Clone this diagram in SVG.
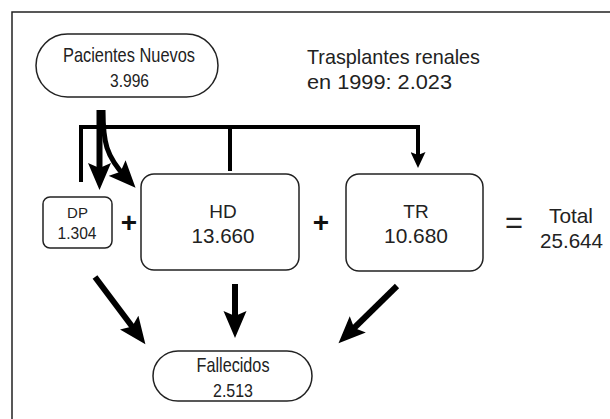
<svg xmlns="http://www.w3.org/2000/svg" width="610" height="419" viewBox="0 0 610 419">
  <style>
    .box { fill: #fff; stroke: #222; stroke-width: 1.5; }
    .t { font-family: "Liberation Sans", Arial, sans-serif; fill: #222; }
    .c { text-anchor: middle; }
    .thick { fill: none; stroke: #000; stroke-width: 6; marker-end: url(#big); }
    .thin { fill: none; stroke: #000; stroke-width: 4; stroke-linejoin: miter; stroke-linecap: butt; }
    .op { font-family: "Liberation Sans", Arial, sans-serif; font-weight: bold; fill: #111; text-anchor: middle; }
  </style>
  <defs>
    <marker id="big" markerUnits="userSpaceOnUse" viewBox="0 0 28 24" markerWidth="28" markerHeight="24" refX="13" refY="12" orient="auto">
      <path d="M0,0.5 L27,12 L0,23.5 L5,12 Z" fill="#000"/>
    </marker>
    <marker id="small" markerUnits="userSpaceOnUse" viewBox="0 0 17 15" markerWidth="17" markerHeight="15" refX="8" refY="7.5" orient="auto">
      <path d="M0,0 L16,7.5 L0,15 L3,7.5 Z" fill="#000"/>
    </marker>
  </defs>

  <rect width="610" height="419" fill="#fff"/>
  <path d="M12,419 V12 H610" fill="none" stroke="#222" stroke-width="1.5"/>

  <g id="connectors">
    <path class="thin" d="M81,182 V127 H418 V160" marker-end="url(#small)"/>
    <line class="thin" x1="230" y1="127" x2="230" y2="171"/>
    <line class="thick" x1="99.5" y1="110" x2="99.5" y2="176"/>
    <path class="thick" d="M103,110 C103,142 106,156 126,177.5" style="stroke-width:5"/>
    <line class="thick" x1="95" y1="277" x2="137" y2="333"/>
    <line class="thick" x1="235" y1="284" x2="235" y2="324"/>
    <line class="thick" x1="397" y1="286" x2="348.5" y2="333.5"/>
  </g>

  <g id="pacientes">
    <rect class="box" x="36" y="34" width="182" height="63" rx="31.5" ry="31.5"/>
    <text class="t c" x="129" y="62" font-size="21" textLength="132" lengthAdjust="spacingAndGlyphs">Pacientes Nuevos</text>
    <text class="t c" x="129.5" y="87" font-size="19" textLength="39" lengthAdjust="spacingAndGlyphs">3.996</text>
  </g>

  <g id="trasplantes">
    <text class="t" x="307" y="64" font-size="21" textLength="173" lengthAdjust="spacingAndGlyphs">Trasplantes renales</text>
    <text class="t" x="307" y="89" font-size="21" textLength="145" lengthAdjust="spacingAndGlyphs">en 1999: 2.023</text>
  </g>

  <g id="dp">
    <rect class="box" x="43" y="197" width="69" height="51" rx="7"/>
    <text class="t c" x="77.5" y="218" font-size="15">DP</text>
    <text class="t c" x="77" y="239" font-size="16" textLength="39" lengthAdjust="spacingAndGlyphs">1.304</text>
  </g>

  <g id="plus1"><text class="op" x="129" y="232" font-size="28">+</text></g>

  <g id="hd">
    <rect class="box" x="141" y="174" width="158" height="96" rx="13"/>
    <text class="t c" x="223" y="218" font-size="19">HD</text>
    <text class="t c" x="223" y="242.5" font-size="21" textLength="63" lengthAdjust="spacingAndGlyphs">13.660</text>
  </g>

  <g id="plus2"><text class="op" x="321" y="232" font-size="28">+</text></g>

  <g id="tr">
    <rect class="box" x="346" y="174" width="137" height="97" rx="13"/>
    <text class="t c" x="416" y="218" font-size="19">TR</text>
    <text class="t c" x="416" y="243" font-size="21" textLength="64" lengthAdjust="spacingAndGlyphs">10.680</text>
  </g>

  <g id="equals"><text class="t c" x="514" y="233" font-size="32" textLength="18" lengthAdjust="spacingAndGlyphs">=</text></g>

  <g id="total">
    <text class="t c" x="571" y="223" font-size="21" textLength="44" lengthAdjust="spacingAndGlyphs">Total</text>
    <text class="t c" x="571.5" y="248" font-size="21" textLength="63" lengthAdjust="spacingAndGlyphs">25.644</text>
  </g>

  <g id="fallecidos">
    <rect class="box" x="153" y="351" width="159" height="50" rx="25" ry="25"/>
    <text class="t c" x="233" y="372" font-size="21" textLength="73" lengthAdjust="spacingAndGlyphs">Fallecidos</text>
    <text class="t c" x="233" y="397" font-size="19" textLength="40" lengthAdjust="spacingAndGlyphs">2.513</text>
  </g>
</svg>
